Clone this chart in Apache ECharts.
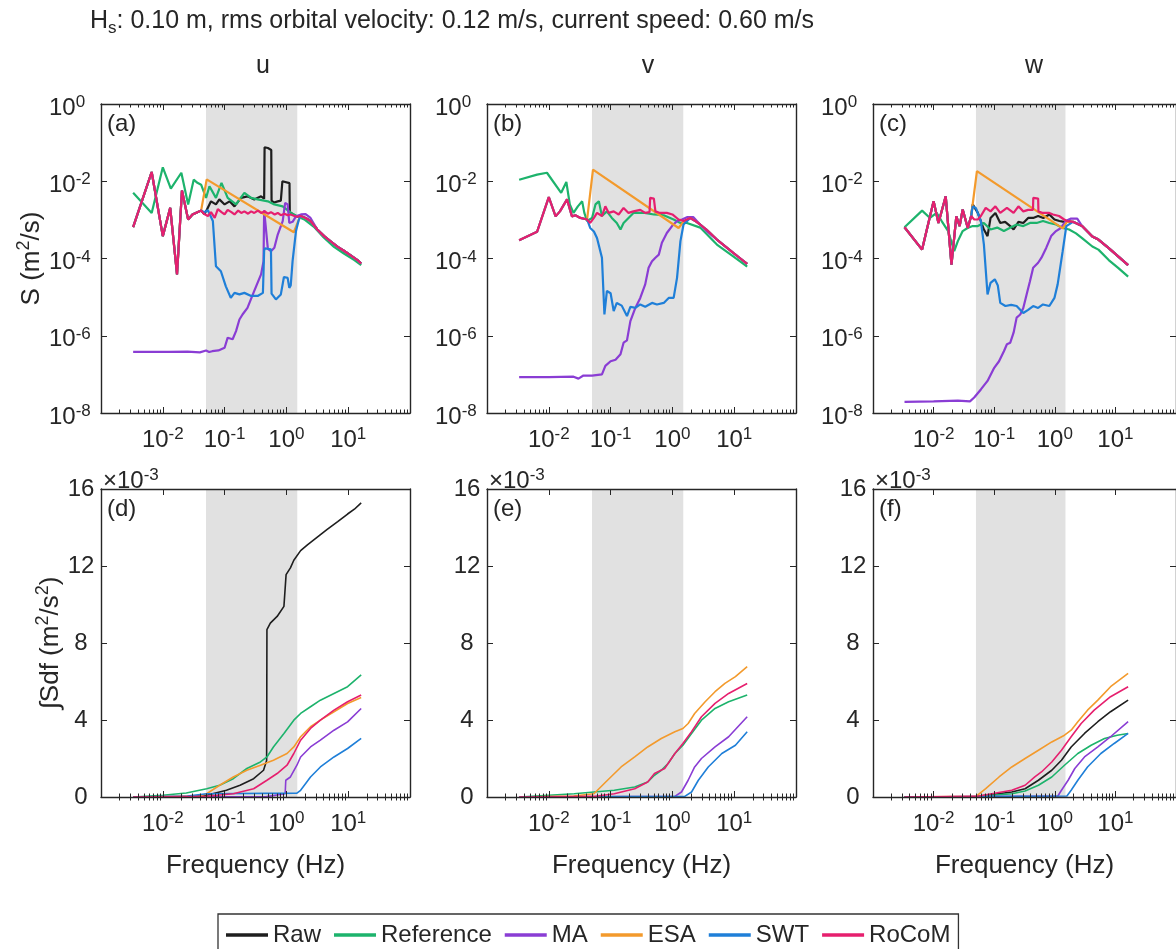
<!DOCTYPE html>
<html><head><meta charset="utf-8">
<script src="https://cdn.jsdelivr.net/npm/echarts@6/dist/echarts.min.js"></script>
<style>html,body{margin:0;padding:0;background:#fff}#c{width:1176px;height:949px}</style>
</head><body><div id="c"></div>
<script>
// ---------- tick labels / ticks ----------
const X_LABELS = [0.01, 0.1, 1, 10];
const X_DECADES = [0.001, 0.01, 0.1, 1, 10, 100];
const X_MULT = [2, 3, 4, 5, 6, 7, 8, 9];
const Y_LOG_TICKS = [1e-8, 1e-6, 1e-4, 1e-2, 1];
const Y_LIN_TICKS = [0, 4, 8, 12, 16];
const BAND = [0.05, 1.5];
const LEGEND = ['Raw', 'Reference', 'MA', 'ESA', 'SWT', 'RoCoM'];

// ---------- spectra (log10 f, log10 S) : u ----------
const u_low_f = [-2.48,-2.18,-2.00,-1.88,-1.77,-1.69,-1.59,-1.52,-1.44,-1.38];
const u_low_s = [-3.19,-1.76,-3.42,-2.69,-4.41,-2.24,-2.99,-2.86,-2.80,-2.76];
const u_tail_f = [0.23,0.31,0.39,0.50,0.61,0.72,0.83,0.93,1.04,1.15,1.21];
const u_tail_s = [-2.90,-2.95,-3.03,-3.25,-3.42,-3.56,-3.70,-3.80,-3.92,-4.04,-4.13];
const u_rocom_f = [-1.33,-1.27,-1.22,-1.16,-1.11,-1.05,-1.00,-0.95,-0.89,-0.84,-0.78,-0.73,-0.68,-0.62,-0.57,-0.52,-0.46,-0.41,-0.35,-0.30,-0.25,-0.19,-0.14,-0.09,-0.03,0.02,0.07,0.13,0.18];
const u_rocom_s = [-2.85,-2.90,-2.80,-2.95,-2.72,-2.80,-2.86,-2.74,-2.80,-2.86,-2.76,-2.82,-2.78,-2.84,-2.78,-2.82,-2.76,-2.82,-2.78,-2.84,-2.80,-2.86,-2.82,-2.88,-2.84,-2.88,-2.86,-2.90,-2.92];
const u_raw_f = [-1.33,-1.285,-1.22,-1.14,-1.085,-1.00,-0.92,-0.84,-0.735,-0.63,-0.52,-0.41,-0.36,-0.353,-0.30,-0.245,-0.24,-0.20,-0.14,-0.09,-0.07,-0.065,0.05,0.055,0.075,0.13,0.18];
const u_raw_s = [-2.85,-2.73,-2.52,-2.60,-2.47,-2.60,-2.52,-2.65,-2.43,-2.39,-2.47,-2.39,-2.45,-1.12,-1.14,-1.19,-2.50,-2.55,-2.52,-2.50,-2.50,-2.00,-2.05,-2.80,-2.84,-2.88,-2.92];
const u_esa_f = [-1.36,-1.29,0.12,0.20];
const u_esa_s = [-2.75,-1.95,-3.32,-3.00];
const u_swt_f = [-1.33,-1.27,-1.19,-1.14,-1.06,-0.98,-0.90,-0.84,-0.76,-0.68,-0.57,-0.465,-0.38,-0.36,-0.35,-0.25,-0.24,-0.17,-0.09,-0.04,0.02,0.047,0.07,0.10,0.155,0.20];
const u_swt_s = [-2.80,-2.75,-3.03,-4.20,-4.33,-4.72,-5.02,-4.89,-4.93,-4.89,-4.97,-4.97,-4.89,-3.80,-3.74,-3.76,-4.91,-5.06,-4.93,-4.48,-4.50,-4.76,-4.70,-4.07,-3.29,-3.00];
const u_ma_f = [-2.48,-2.20,-1.90,-1.60,-1.40,-1.30,-1.25,-1.20,-1.10,-1.00,-0.95,-0.87,-0.815,-0.76,-0.71,-0.63,-0.52,-0.41,-0.37,-0.36,-0.35,-0.30,-0.25,-0.195,-0.14,-0.06,-0.02,0.02,0.047,0.10,0.155,0.236,0.31,0.39,0.445,0.50,0.61,0.72,0.83,0.93,1.04,1.15,1.21];
const u_ma_s = [-6.42,-6.42,-6.42,-6.41,-6.43,-6.38,-6.42,-6.40,-6.38,-6.31,-6.05,-6.09,-5.88,-5.58,-5.45,-5.28,-4.84,-4.41,-4.07,-2.75,-2.75,-3.75,-3.81,-3.72,-3.38,-3.03,-2.56,-2.60,-3.08,-3.05,-2.91,-2.86,-2.85,-2.95,-3.10,-3.25,-3.42,-3.56,-3.70,-3.80,-3.92,-4.04,-4.13];
const u_ref_f = [-2.48,-2.18,-2.00,-1.87,-1.70,-1.59,-1.50,-1.44,-1.38,-1.30,-1.245,-1.14,-1.05,-0.95,-0.815,-0.68,-0.57,-0.465,-0.30,-0.195,-0.06,0.075,0.18,0.30,0.445,0.60,0.77,0.93,1.10,1.21];
const u_ref_s = [-2.30,-2.82,-1.64,-2.19,-1.78,-2.60,-1.96,-2.04,-2.09,-2.43,-2.13,-2.43,-2.04,-2.43,-2.60,-2.30,-2.43,-2.47,-2.52,-2.60,-2.65,-2.82,-2.91,-3.00,-3.18,-3.45,-3.70,-3.87,-4.04,-4.17];

// ---------- spectra : v ----------
const v_low_f = [-2.48,-2.19,-2.00,-1.89,-1.82,-1.705,-1.625,-1.57,-1.49,-1.38];
const v_low_s = [-3.53,-3.31,-2.41,-2.91,-2.78,-2.47,-2.91,-2.88,-2.95,-2.99];
const v_tail_f = [0.29,0.39,0.45,0.55,0.61,0.72,0.85,0.99,1.10,1.21];
const v_tail_s = [-2.95,-3.05,-3.12,-3.25,-3.34,-3.51,-3.68,-3.86,-4.00,-4.14];
const v_rocom_f = [-1.33,-1.27,-1.22,-1.14,-1.085,-1.03,-0.95,-0.87,-0.79,-0.71,-0.63,-0.52,-0.44,-0.37,-0.36,-0.30,-0.275,-0.20,-0.09,0.00,0.10,0.18];
const v_rocom_s = [-3.08,-2.95,-2.82,-2.90,-2.65,-2.82,-2.78,-2.86,-2.69,-2.82,-2.78,-2.74,-2.82,-2.80,-2.43,-2.45,-2.78,-2.82,-2.82,-2.86,-2.99,-3.03];
const v_esa_f = [-1.36,-1.285,0.10,0.18];
const v_esa_s = [-2.99,-1.70,-3.21,-3.05];
const v_swt_f = [-1.33,-1.27,-1.22,-1.14,-1.10,-1.06,-1.00,-0.95,-0.90,-0.82,-0.735,-0.68,-0.60,-0.52,-0.44,-0.33,-0.25,-0.14,-0.06,0.02,0.075,0.13,0.18];
const v_swt_s = [-3.21,-3.30,-3.47,-3.98,-5.45,-4.84,-4.90,-5.36,-5.15,-5.22,-5.49,-5.25,-5.28,-5.19,-5.25,-5.15,-5.19,-5.15,-5.02,-5.02,-4.50,-3.55,-3.12];
const v_ref_f = [-2.48,-2.19,-2.03,-1.80,-1.716,-1.66,-1.60,-1.53,-1.46,-1.425,-1.38,-1.30,-1.245,-1.19,-1.14,-1.06,-0.98,-0.90,-0.84,-0.79,-0.71,-0.63,-0.45,-0.30,-0.14,0.02,0.13,0.236,0.45,0.72,0.99,1.21];
const v_ref_s = [-1.96,-1.83,-1.78,-2.30,-2.02,-2.60,-2.82,-2.65,-2.52,-2.82,-3.03,-2.95,-2.60,-2.52,-2.90,-2.78,-2.95,-3.08,-3.25,-3.08,-2.95,-2.82,-2.82,-2.86,-2.88,-2.99,-3.08,-3.08,-3.20,-3.64,-3.95,-4.21];
const v_ma_f = [-2.48,-2.00,-1.60,-1.52,-1.44,-1.30,-1.14,-1.085,-1.00,-0.92,-0.84,-0.79,-0.735,-0.68,-0.60,-0.52,-0.44,-0.385,-0.33,-0.275,-0.22,-0.17,-0.09,-0.006,0.075,0.155,0.236,0.34,0.425,0.56,0.72,0.85,0.99,1.10,1.21];
const v_ma_s = [-7.07,-7.07,-7.06,-7.11,-7.03,-7.03,-7.00,-6.78,-6.66,-6.62,-6.48,-6.18,-6.12,-5.62,-5.28,-5.02,-4.67,-4.24,-4.07,-3.98,-3.90,-3.59,-3.34,-3.16,-3.03,-2.99,-2.93,-2.93,-3.08,-3.30,-3.51,-3.68,-3.86,-4.00,-4.14];

// ---------- spectra : w ----------
const w_low_f = [-2.48,-2.19,-2.00,-1.92,-1.80,-1.705,-1.625,-1.57,-1.52,-1.436,-1.38];
const w_low_s = [-3.19,-3.77,-2.52,-3.08,-2.39,-4.16,-2.91,-3.16,-2.73,-3.21,-2.90];
const w_tail_f = [0.30,0.45,0.62,0.72,0.89,1.05,1.21];
const w_tail_s = [-3.05,-3.16,-3.43,-3.51,-3.73,-3.95,-4.17];
const w_rocom_f = [-1.33,-1.27,-1.22,-1.14,-1.06,-0.98,-0.90,-0.79,-0.68,-0.60,-0.52,-0.44,-0.36,-0.355,-0.275,-0.27,-0.20,-0.09,-0.03,0.07,0.155,0.20];
const w_rocom_s = [-2.99,-2.99,-2.90,-2.69,-2.78,-2.65,-2.82,-2.69,-2.82,-2.65,-2.78,-2.74,-2.74,-2.43,-2.45,-2.78,-2.82,-2.82,-2.86,-2.90,-2.99,-3.03];
const w_raw_f = [-1.355,-1.27,-1.17,-1.11,-1.06,-0.98,-0.90,-0.82,-0.735,-0.68,-0.60,-0.52,-0.44,-0.357,-0.275,-0.19,-0.09,-0.006,0.075,0.155,0.20];
const w_raw_s = [-2.60,-2.82,-3.25,-3.42,-2.95,-2.82,-3.08,-3.05,-3.16,-3.25,-3.05,-3.08,-2.95,-2.95,-2.90,-2.95,-2.86,-2.99,-3.03,-3.05,-3.03];
const w_esa_f = [-1.36,-1.285,0.13,0.20];
const w_esa_s = [-2.85,-1.74,-3.22,-3.05];
const w_swt_f = [-1.355,-1.30,-1.22,-1.17,-1.11,-1.06,-0.99,-0.94,-0.90,-0.815,-0.72,-0.63,-0.52,-0.44,-0.357,-0.275,-0.195,-0.09,-0.006,0.047,0.13,0.19];
const w_swt_s = [-2.65,-2.70,-3.03,-3.64,-4.93,-4.63,-4.54,-4.70,-5.15,-5.23,-5.20,-5.23,-5.41,-5.33,-5.23,-5.28,-5.19,-5.23,-5.02,-4.67,-3.81,-3.16];
const w_ref_f = [-2.48,-2.19,-2.06,-1.95,-1.867,-1.76,-1.66,-1.60,-1.52,-1.44,-1.355,-1.27,-1.17,-1.06,-0.95,-0.84,-0.73,-0.63,-0.52,-0.41,-0.30,-0.195,-0.09,0.02,0.13,0.236,0.35,0.45,0.62,0.72,0.89,1.05,1.21];
const w_ref_s = [-3.19,-2.76,-2.95,-2.82,-3.03,-3.29,-3.81,-3.55,-3.29,-3.21,-3.16,-3.16,-3.08,-3.25,-3.20,-3.29,-3.20,-3.12,-3.16,-3.08,-3.08,-3.03,-3.08,-3.12,-3.21,-3.25,-3.35,-3.47,-3.69,-3.77,-4.04,-4.25,-4.47];
const w_ma_f = [-2.48,-2.00,-1.60,-1.40,-1.33,-1.22,-1.11,-1.00,-0.92,-0.84,-0.79,-0.735,-0.68,-0.63,-0.57,-0.52,-0.465,-0.41,-0.357,-0.275,-0.22,-0.14,-0.06,0.02,0.10,0.18,0.26,0.37,0.45,0.62,0.72,0.89,1.05,1.21];
const w_ma_s = [-7.71,-7.70,-7.68,-7.70,-7.60,-7.39,-7.17,-6.83,-6.66,-6.40,-6.22,-6.18,-5.92,-5.53,-5.45,-5.28,-4.93,-4.59,-4.24,-4.11,-3.98,-3.72,-3.42,-3.29,-3.21,-3.03,-2.97,-2.97,-3.16,-3.43,-3.51,-3.73,-3.95,-4.17];

// ---------- cumulative integrals (log10 f, value in 1e-3 m^2/s^2) ----------
const ud_raw_f = [-2.48,-2.00,-1.60,-1.29,-0.97,-0.75,-0.53,-0.37,-0.32,-0.315,-0.26,-0.15,-0.04,-0.01,-0.005,0.065,0.12,0.23,0.34,0.50,0.66,0.83,0.99,1.10,1.21];
const ud_raw_v = [0,0,0.02,0.09,0.35,0.61,0.95,1.39,1.90,8.70,9.03,9.38,9.90,10.00,11.55,11.90,12.30,12.80,13.10,13.50,13.90,14.30,14.70,14.95,15.28];
const ud_ref_f = [-2.48,-2.00,-1.62,-1.29,-1.08,-0.86,-0.64,-0.42,-0.315,-0.21,-0.04,0.12,0.23,0.39,0.55,0.77,0.99,1.21];
const ud_ref_v = [0,0.09,0.21,0.43,0.61,0.95,1.48,1.82,2.08,2.60,3.30,3.99,4.34,4.69,5.03,5.38,5.73,6.34];
const ud_esa_f = [-2.48,-1.40,-1.29,-1.08,-0.86,-0.64,-0.42,-0.21,0.01,0.12,0.23,0.39,0.55,0.77,0.99,1.21];
const ud_esa_v = [0,0.05,0.17,0.61,1.04,1.39,1.65,1.91,2.26,2.60,3.13,3.65,3.99,4.43,4.86,5.17];
const ud_rocom_f = [-2.48,-1.29,-0.86,-0.53,-0.315,-0.15,0.01,0.12,0.23,0.39,0.55,0.77,0.99,1.21];
const ud_rocom_v = [0,0.04,0.17,0.43,0.87,1.22,1.65,2.26,2.95,3.56,3.99,4.51,4.95,5.30];
const ud_ma_f = [-2.48,-0.32,-0.02,-0.01,0.065,0.17,0.23,0.39,0.55,0.77,0.99,1.21];
const ud_ma_v = [0,0.02,0.17,0.87,1.04,1.65,2.08,2.60,2.95,3.47,3.90,4.60];
const ud_swt_f = [-2.48,-1.60,-1.29,0.17,0.23,0.39,0.55,0.77,0.99,1.21];
const ud_swt_v = [0,0.05,0.17,0.20,0.35,1.04,1.56,2.08,2.52,3.04];

const ve_esa_f = [-2.48,-1.60,-1.27,-1.05,-0.83,-0.61,-0.40,-0.18,0.04,0.17,0.255,0.36,0.53,0.69,0.85,1.02,1.21];
const ve_esa_v = [0,0.05,0.17,0.87,1.56,2.08,2.60,3.04,3.39,3.56,3.82,4.34,4.95,5.47,5.90,6.25,6.77];
const ve_ref_f = [-2.48,-2.00,-1.59,-1.27,-0.94,-0.61,-0.40,-0.29,-0.18,-0.07,0.04,0.17,0.31,0.47,0.69,0.91,1.21];
const ve_ref_v = [0,0.09,0.17,0.26,0.35,0.52,0.78,1.13,1.39,1.74,2.26,2.69,3.30,3.99,4.60,4.95,5.30];
const ve_rocom_f = [-2.48,-1.27,-0.94,-0.61,-0.40,-0.29,-0.125,0.04,0.17,0.31,0.47,0.69,0.91,1.21];
const ve_rocom_v = [0,0.03,0.17,0.43,0.78,1.22,1.48,2.26,2.78,3.39,4.17,4.86,5.38,5.90];
const ve_ma_f = [-2.48,0.04,0.147,0.255,0.36,0.47,0.69,0.91,1.21];
const ve_ma_v = [0,0.03,0.26,0.87,1.56,2.00,2.60,3.13,4.17];
const ve_swt_f = [-2.48,0.20,0.31,0.42,0.58,0.80,1.02,1.21];
const ve_swt_v = [0,0.03,0.26,0.87,1.56,2.26,2.69,3.39];

const wf_esa_f = [-2.48,-1.30,-1.14,-0.92,-0.71,-0.49,-0.27,-0.05,0.16,0.27,0.38,0.54,0.71,0.92,1.21];
const wf_esa_v = [0,0.03,0.43,1.04,1.56,2.00,2.43,2.86,3.21,3.47,3.91,4.51,5.03,5.73,6.42];
const wf_rocom_f = [-2.48,-1.30,-0.71,-0.49,-0.33,-0.22,-0.05,0.11,0.27,0.435,0.65,0.92,1.21];
const wf_rocom_v = [0,0.03,0.35,0.61,1.04,1.30,1.82,2.43,3.13,3.82,4.51,5.21,5.73];
const wf_raw_f = [-2.48,-1.30,-0.71,-0.49,-0.27,-0.05,0.11,0.27,0.49,0.71,0.92,1.21];
const wf_raw_v = [0,0.02,0.26,0.43,0.87,1.39,1.91,2.60,3.30,3.91,4.43,5.03];
const wf_ref_f = [-2.48,-1.30,-0.71,-0.49,-0.27,-0.05,0.16,0.38,0.60,0.82,1.03,1.21];
const wf_ref_v = [0,0.02,0.17,0.31,0.61,1.04,1.65,2.26,2.69,3.04,3.21,3.30];
const wf_ma_f = [-2.48,0.05,0.11,0.22,0.33,0.49,0.71,0.92,1.21];
const wf_ma_v = [0,0.05,0.35,0.87,1.48,2.08,2.60,3.13,3.91];
const wf_swt_f = [-2.48,0.20,0.27,0.38,0.54,0.76,0.98,1.21];
const wf_swt_v = [0,0.05,0.35,0.87,1.56,2.26,2.78,3.30];

// ---------- helpers ----------
const FONT = "'Liberation Sans', Arial, Helvetica, sans-serif";
const TXT = '#262626';
const AX = '#262626';
const COL = {Raw:'#1e1e1e', Reference:'#1db36c', MA:'#8a3dd4', ESA:'#f39a2c', SWT:'#1f7fd8', RoCoM:'#e61f6e'};
const cat = (...a) => [].concat(...a);
const P = (f, s) => f.map((x, i) => [Math.pow(10, x), Math.pow(10, s[i])]);
const Q = (f, v) => f.map((x, i) => [Math.pow(10, x), v[i]]);
const X_MINOR = [];
X_DECADES.slice(0, 5).forEach(d => X_MULT.forEach(m => X_MINOR.push(d * m)));

const panels = [
  {g:{left:101, top:104, width:309, height:309}, log:true, series:{
    Raw: P(cat(u_low_f,u_raw_f,u_tail_f), cat(u_low_s,u_raw_s,u_tail_s)),
    Reference: P(u_ref_f,u_ref_s),
    MA: P(u_ma_f,u_ma_s),
    ESA: P(cat(u_low_f,u_esa_f,u_tail_f), cat(u_low_s,u_esa_s,u_tail_s)),
    SWT: P(cat(u_low_f,u_swt_f,u_tail_f), cat(u_low_s,u_swt_s,u_tail_s)),
    RoCoM: P(cat(u_low_f,u_rocom_f,u_tail_f), cat(u_low_s,u_rocom_s,u_tail_s))}},
  {g:{left:487, top:104, width:309, height:309}, log:true, series:{
    Reference: P(v_ref_f,v_ref_s),
    MA: P(v_ma_f,v_ma_s),
    ESA: P(cat(v_low_f,v_esa_f,v_tail_f), cat(v_low_s,v_esa_s,v_tail_s)),
    SWT: P(cat(v_low_f,v_swt_f,v_tail_f), cat(v_low_s,v_swt_s,v_tail_s)),
    RoCoM: P(cat(v_low_f,v_rocom_f,v_tail_f), cat(v_low_s,v_rocom_s,v_tail_s))}},
  {g:{left:873, top:104, width:309, height:309}, log:true, series:{
    Raw: P(cat(w_low_f,w_raw_f,w_tail_f), cat(w_low_s,w_raw_s,w_tail_s)),
    Reference: P(w_ref_f,w_ref_s),
    MA: P(w_ma_f,w_ma_s),
    ESA: P(cat(w_low_f,w_esa_f,w_tail_f), cat(w_low_s,w_esa_s,w_tail_s)),
    SWT: P(cat(w_low_f,w_swt_f,w_tail_f), cat(w_low_s,w_swt_s,w_tail_s)),
    RoCoM: P(cat(w_low_f,w_rocom_f,w_tail_f), cat(w_low_s,w_rocom_s,w_tail_s))}},
  {g:{left:101, top:489, width:309, height:308}, log:false, series:{
    Raw: Q(ud_raw_f,ud_raw_v), Reference: Q(ud_ref_f,ud_ref_v), MA: Q(ud_ma_f,ud_ma_v),
    ESA: Q(ud_esa_f,ud_esa_v), SWT: Q(ud_swt_f,ud_swt_v), RoCoM: Q(ud_rocom_f,ud_rocom_v)}},
  {g:{left:487, top:489, width:309, height:308}, log:false, series:{
    Reference: Q(ve_ref_f,ve_ref_v), MA: Q(ve_ma_f,ve_ma_v),
    ESA: Q(ve_esa_f,ve_esa_v), SWT: Q(ve_swt_f,ve_swt_v), RoCoM: Q(ve_rocom_f,ve_rocom_v)}},
  {g:{left:873, top:489, width:309, height:308}, log:false, series:{
    Raw: Q(wf_raw_f,wf_raw_v), Reference: Q(wf_ref_f,wf_ref_v), MA: Q(wf_ma_f,wf_ma_v),
    ESA: Q(wf_esa_f,wf_esa_v), SWT: Q(wf_swt_f,wf_swt_v), RoCoM: Q(wf_rocom_f,wf_rocom_v)}}
];

const RICH = {
  b: {fontSize: 24, fontFamily: FONT, color: TXT, lineHeight: 26, verticalAlign: 'bottom'},
  s: {fontSize: 17, fontFamily: FONT, color: TXT, lineHeight: 8, verticalAlign: 'top'}
};
const NAME_RICH = {
  n: {fontSize: 26, fontFamily: FONT, color: TXT, lineHeight: 30, verticalAlign: 'bottom'},
  p: {fontSize: 18, fontFamily: FONT, color: TXT, lineHeight: 10, verticalAlign: 'top'}
};
const powFmt = v => '{b|10}{s|' + Math.round(Math.log10(v)) + '}';

const grid = [], xAxis = [], yAxis = [], series = [];
panels.forEach((p, gi) => {
  grid.push(p.g);
  const bottomRow = gi >= 3;
  const xBase = {type:'log', logBase:10, min:0.001, max:100, gridIndex:gi, z:10, splitLine:{show:false}};
  xAxis.push(Object.assign({}, xBase, {position:'bottom',
    name: bottomRow ? 'Frequency (Hz)' : '', nameLocation:'middle', nameGap: 56,
    nameTextStyle:{fontSize:26, fontFamily:FONT, color:TXT},
    axisLine:{show:true, onZero:false, lineStyle:{color:AX, width:1.4}},
    axisTick:{show:true, inside:true, length:6, customValues:X_DECADES, lineStyle:{color:AX, width:1}},
    axisLabel:{show:true, customValues:X_LABELS, formatter:powFmt, margin:13, rich:RICH}}));
  xAxis.push(Object.assign({}, xBase, {position:'bottom',
    axisLine:{show:false}, axisLabel:{show:false},
    axisTick:{show:true, inside:true, length:3.5, customValues:X_MINOR, lineStyle:{color:AX, width:1}}}));
  xAxis.push(Object.assign({}, xBase, {position:'top',
    axisLine:{show:true, onZero:false, lineStyle:{color:AX, width:1.4}}, axisLabel:{show:false},
    axisTick:{show:true, inside:true, length:6, customValues:X_DECADES, lineStyle:{color:AX, width:1}}}));
  xAxis.push(Object.assign({}, xBase, {position:'top',
    axisLine:{show:false}, axisLabel:{show:false},
    axisTick:{show:true, inside:true, length:3.5, customValues:X_MINOR, lineStyle:{color:AX, width:1}}}));

  const leftCol = gi % 3 === 0;
  const yBase = p.log
    ? {type:'log', logBase:10, min:1e-8, max:1, gridIndex:gi, z:10, splitLine:{show:false}}
    : {type:'value', min:0, max:16, interval:4, gridIndex:gi, z:10, splitLine:{show:false}};
  const ticks = p.log ? Y_LOG_TICKS : Y_LIN_TICKS;
  yAxis.push(Object.assign({}, yBase, {position:'left',
    name: leftCol ? (p.log ? '{n|S (m}{p|2}{n|/s)}' : '{n|∫Sdf (m}{p|2}{n|/s}{p|2}{n|)}') : '',
    nameLocation:'middle', nameGap: p.log ? 56 : 31,
    nameTextStyle:{fontSize:26, fontFamily:FONT, color:TXT, rich:NAME_RICH},
    axisLine:{show:true, onZero:false, lineStyle:{color:AX, width:1.4}},
    axisTick:{show:true, inside:true, length:6, customValues:ticks, lineStyle:{color:AX, width:1}},
    axisLabel: p.log
      ? {show:true, customValues:ticks, formatter:powFmt, margin:52, align:'left', padding:[6,0,0,0], rich:RICH}
      : {show:true, customValues:ticks, margin:20, align:'center', fontSize:24, fontFamily:FONT, color:TXT}}));
  yAxis.push(Object.assign({}, yBase, {position:'right',
    axisLine:{show:true, onZero:false, lineStyle:{color:AX, width:1.4}}, axisLabel:{show:false},
    axisTick:{show:true, inside:true, length:6, customValues:ticks, lineStyle:{color:AX, width:1}}}));

  LEGEND.forEach(name => {
    if (!p.series[name]) return;
    const s = {type:'line', name, xAxisIndex:4*gi, yAxisIndex:2*gi, data:p.series[name],
      symbol:'none', showSymbol:false, color:COL[name],
      lineStyle:{color:COL[name], width: p.log ? 2.2 : 1.6}, itemStyle:{color:COL[name]},
      emphasis:{disabled:true}, z:2};
    if (name === 'Reference') {
      s.markArea = {silent:true, z:1, label:{show:false}, itemStyle:{color:'#e1e1e1'},
        data:[[{xAxis:BAND[0], yAxis: p.log ? 1e-8 : 0}, {xAxis:BAND[1], yAxis: p.log ? 1 : 16}]]};
    }
    series.push(s);
  });
});

const T = (text, x, y, size, align) => ({type:'text', x, y, silent:true, z:20,
  style:{text, fill:TXT, font: size + 'px ' + FONT, textAlign: align || 'left', textVerticalAlign:'top'}});

const graphic = [
  {type:'text', x:90, y:9, silent:true, z:20, style:{
    text:'{a|H}{s|s}{a|: 0.10 m, rms orbital velocity: 0.12 m/s, current speed: 0.60 m/s}',
    fill:TXT, textVerticalAlign:'top',
    rich:{a:{fontSize:25, fontFamily:FONT, fill:TXT, lineHeight:20, verticalAlign:'top'},
          s:{fontSize:17, fontFamily:FONT, fill:TXT, lineHeight:38}}}},
  T('u', 263, 54, 25, 'center'), T('v', 648, 54, 25, 'center'), T('w', 1034, 54, 25, 'center'),
  T('(a)', 107, 112, 24), T('(b)', 493, 112, 24), T('(c)', 879, 112, 24),
  T('(d)', 107, 497, 24), T('(e)', 493, 497, 24), T('(f)', 879, 497, 24)
];
[101, 487, 873].forEach(x => graphic.push({type:'text', x: x + 2, y: 467, silent:true, z:20, style:{
  text:'{b|×10}{s|-3}', fill:TXT, textVerticalAlign:'top',
  rich:{b:{fontSize:24, fontFamily:FONT, fill:TXT, lineHeight:26, verticalAlign:'bottom'},
        s:{fontSize:17, fontFamily:FONT, fill:TXT, lineHeight:8, verticalAlign:'top'}}}}));

const chart = echarts.init(document.getElementById('c'), null, {renderer:'canvas'});
chart.setOption({
  animation:false,
  backgroundColor:'#ffffff',
  grid, xAxis, yAxis, series, graphic,
  legend:{data:LEGEND, left:218, top:914, orient:'horizontal', icon:'rect', itemWidth:42, itemHeight:3.5,
    itemGap:13, padding:[9, 8, 12, 8], borderColor:'#333', borderWidth:1.3, selectedMode:false,
    textStyle:{fontSize:24, fontFamily:FONT, color:TXT}}
});
</script></body></html>
